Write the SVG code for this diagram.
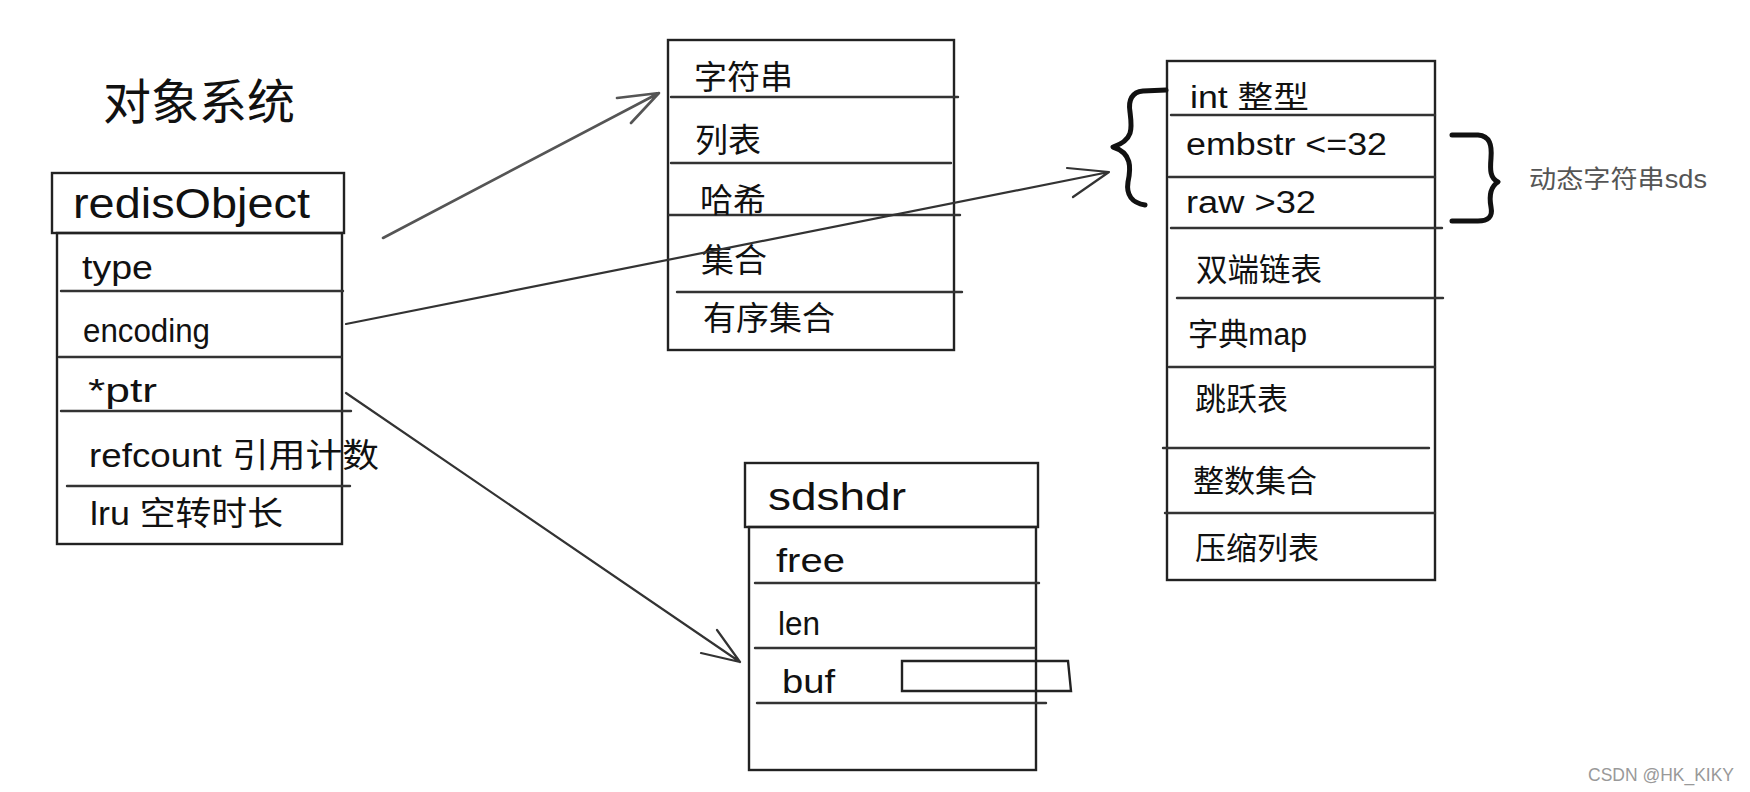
<svg xmlns="http://www.w3.org/2000/svg" width="1750" height="792" viewBox="0 0 1750 792">
<defs>
<style>
.bx{fill:none;stroke:#222;stroke-width:2.4;stroke-linecap:round}
.sep{fill:none;stroke:#333;stroke-width:2.4;stroke-linecap:round}
.t{font-family:"Liberation Sans","Noto Sans CJK SC",sans-serif;fill:#111}
.c{font-family:"Noto Sans CJK SC",sans-serif;fill:#111}
.conn{fill:none;stroke:#333;stroke-width:2.2;stroke-linecap:round;stroke-linejoin:round}
.brace{fill:none;stroke:#111;stroke-width:5;stroke-linecap:round;stroke-linejoin:round}
</style>
</defs>
<rect width="1750" height="792" fill="#fff"/>

<text class="c" x="103" y="119" font-size="48">对象系统</text>

<g id="redisObject">
<rect class="bx" x="52" y="173" width="292" height="60"/>
<rect class="bx" x="57" y="233" width="285" height="311"/>
<line class="sep" x1="61" y1="291" x2="343" y2="291"/>
<line class="sep" x1="59" y1="357" x2="341" y2="357"/>
<line class="sep" x1="61" y1="411" x2="351" y2="411"/>
<line class="sep" x1="67" y1="486" x2="350" y2="486"/>
<text class="t" x="73" y="218" font-size="42" textLength="237" lengthAdjust="spacingAndGlyphs">redisObject</text>
<text class="t" x="82" y="279" font-size="33" textLength="71" lengthAdjust="spacingAndGlyphs">type</text>
<text class="t" x="83" y="342" font-size="33" textLength="127" lengthAdjust="spacingAndGlyphs">encoding</text>
<text class="t" x="88" y="402" font-size="33" textLength="69" lengthAdjust="spacingAndGlyphs">*ptr</text>
<text class="t" x="89" y="467" font-size="33" textLength="290" lengthAdjust="spacingAndGlyphs">refcount 引用计数</text>
<text class="t" x="90" y="525" font-size="33" textLength="193" lengthAdjust="spacingAndGlyphs">lru 空转时长</text>
</g>

<g id="types">
<rect class="bx" x="668" y="40" width="286" height="310"/>
<line class="sep" x1="671" y1="97" x2="958" y2="97"/>
<line class="sep" x1="671" y1="163" x2="951" y2="163"/>
<line class="sep" x1="669" y1="215" x2="960" y2="215"/>
<line class="sep" x1="677" y1="292" x2="962" y2="292"/>
<text class="c" x="694" y="89" font-size="33">字符串</text>
<text class="c" x="695" y="152" font-size="33">列表</text>
<text class="c" x="700" y="212" font-size="33">哈希</text>
<text class="c" x="701" y="272" font-size="33">集合</text>
<text class="c" x="703" y="330" font-size="33">有序集合</text>
</g>

<g id="encodings">
<rect class="bx" x="1167" y="61" width="268" height="519"/>
<line class="sep" x1="1171" y1="115" x2="1435" y2="115"/>
<line class="sep" x1="1169" y1="177" x2="1435" y2="177"/>
<line class="sep" x1="1171" y1="228" x2="1442" y2="228"/>
<line class="sep" x1="1177" y1="298" x2="1443" y2="298"/>
<line class="sep" x1="1169" y1="367" x2="1435" y2="367"/>
<line class="sep" x1="1163" y1="448" x2="1429" y2="448"/>
<line class="sep" x1="1165" y1="513" x2="1435" y2="513"/>
<text class="t" x="1190" y="108" font-size="31" textLength="119" lengthAdjust="spacingAndGlyphs">int 整型</text>
<text class="t" x="1186" y="155" font-size="31" textLength="201" lengthAdjust="spacingAndGlyphs">embstr &lt;=32</text>
<text class="t" x="1186" y="213" font-size="31" textLength="130" lengthAdjust="spacingAndGlyphs">raw &gt;32</text>
<text class="c" x="1196" y="281" font-size="31.5">双端链表</text>
<text class="t" x="1188" y="345" font-size="31" textLength="119" lengthAdjust="spacingAndGlyphs">字典map</text>
<text class="c" x="1195" y="410" font-size="31">跳跃表</text>
<text class="c" x="1193" y="492" font-size="31">整数集合</text>
<text class="c" x="1195" y="559" font-size="31">压缩列表</text>
</g>

<g id="sdsLabel">
<path class="brace" d="M1452,135 L1478,135 C1490,136 1492,145 1491,158 C1490,170 1490,178 1498,182 C1490,187 1489,196 1491,207 C1493,217 1488,221 1478,221 L1452,221"/>
<text class="t" x="1529" y="188" font-size="25" style="fill:#555" textLength="178" lengthAdjust="spacingAndGlyphs">动态字符串sds</text>
</g>

<g id="sdshdr">
<rect class="bx" x="745" y="463" width="293" height="64"/>
<rect class="bx" x="749" y="527" width="287" height="243"/>
<line class="sep" x1="755" y1="583" x2="1039" y2="583"/>
<line class="sep" x1="755" y1="648" x2="1035" y2="648"/>
<line class="sep" x1="757" y1="703" x2="1046" y2="703"/>
<path class="bx" d="M902,661 L1068,661 L1071,691 L902,691 Z"/>
<text class="t" x="768" y="510" font-size="38" textLength="138" lengthAdjust="spacingAndGlyphs">sdshdr</text>
<text class="t" x="776" y="572" font-size="33" textLength="69" lengthAdjust="spacingAndGlyphs">free</text>
<text class="t" x="778" y="635" font-size="34" textLength="42" lengthAdjust="spacingAndGlyphs">len</text>
<text class="t" x="782" y="693" font-size="33" textLength="53" lengthAdjust="spacingAndGlyphs">buf</text>
</g>

<g id="connectors">
<path class="conn" d="M383,238 L659,93 M617,98 L659,93 L631,123" style="stroke:#555;stroke-width:2.6"/>
<path class="conn" d="M346,324 L1109,172 M1067,168 L1109,172 L1073,197"/>
<path class="conn" d="M346,393 L740,662 M717,630 L740,662 L701,653"/>
<path class="brace" d="M1166,90 L1143,91 C1132,92 1128,100 1130,112 C1132,128 1134,140 1113,147 C1132,153 1131,168 1128,182 C1126,195 1132,203 1145,205"/>
</g>

<text x="1588" y="781" font-family="Liberation Sans, sans-serif" font-size="18" fill="#999" textLength="146" lengthAdjust="spacingAndGlyphs">CSDN @HK_KIKY</text>
</svg>
